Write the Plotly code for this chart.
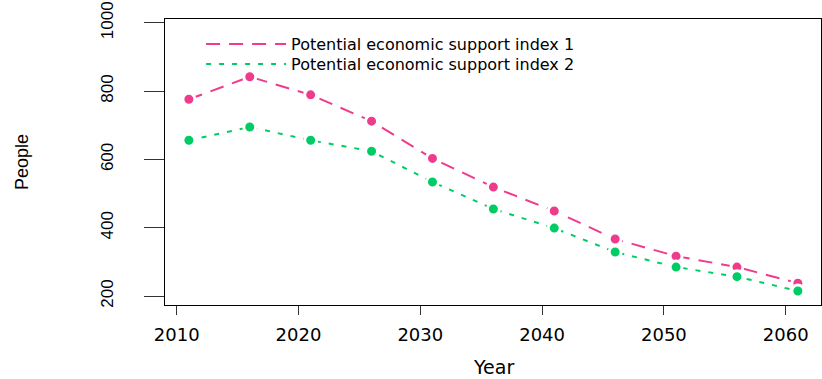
import plotly.graph_objects as go

years = [2011, 2016, 2021, 2026, 2031, 2036, 2041, 2046, 2051, 2056, 2061]
index1 = [776, 842, 789, 712, 603, 519, 449, 367, 317, 285, 238]
index2 = [656, 695, 656, 624, 534, 455, 399, 329, 285, 257, 215]
series_names = ["Potential economic support index 1", "Potential economic support index 2"]
x_ticks = [2010, 2020, 2030, 2040, 2050, 2060]
y_ticks = [200, 400, 600, 800, 1000]

pink = "#EF3B8C"
green = "#00CC66"

fig = go.Figure()
fig.add_trace(go.Scatter(x=years, y=index1, mode="lines", name=series_names[0], legend="legend",
                         line=dict(color=pink, width=2, dash="14px,9px")))
fig.add_trace(go.Scatter(x=years, y=index2, mode="lines", name=series_names[1], legend="legend2",
                         line=dict(color=green, width=2, dash="5px,8px")))
fig.add_trace(go.Scatter(x=years, y=index1, mode="markers", showlegend=False,
                         marker=dict(color=pink, size=12, line=dict(color="white", width=3))))
fig.add_trace(go.Scatter(x=years, y=index2, mode="markers", showlegend=False,
                         marker=dict(color=green, size=12, line=dict(color="white", width=3))))

axis_common = dict(showline=True, linecolor="black", linewidth=1, mirror=True,
                   showgrid=False, zeroline=False, ticks="outside", tickcolor="#333",
                   tickwidth=1)

legend_common = dict(xanchor="left", yanchor="middle", bgcolor="rgba(0,0,0,0)", itemwidth=80,
                     font=dict(family="DejaVu Sans", size=16, color="black"))

fig.update_layout(
    width=822, height=379,
    margin=dict(l=165, r=1, t=19, b=74),
    paper_bgcolor="white", plot_bgcolor="white",
    xaxis=dict(range=[2009.04, 2062.9], tickvals=x_ticks, ticklen=9,
               tickfont=dict(family="DejaVu Sans", size=18, color="black"),
               ticklabelstandoff=4, **axis_common),
    yaxis=dict(range=[174, 1011], tickvals=y_ticks, ticklen=20, tickangle=-90,
               tickfont=dict(family="Liberation Sans", size=17, color="black"),
               ticklabelstandoff=24, **axis_common),
    legend=dict(x=0.055, y=0.9126, **legend_common),
    legend2=dict(x=0.055, y=0.8427, **legend_common),
    annotations=[
        dict(text="People", xref="paper", yref="paper", x=0, y=0.5,
             xshift=-143, xanchor="center", yanchor="middle", textangle=-90,
             showarrow=False, font=dict(family="Liberation Sans", size=18, color="black")),
        dict(text="Year", xref="paper", yref="paper", x=0.5, y=0,
             yshift=-62, xanchor="center", yanchor="middle",
             showarrow=False, font=dict(family="DejaVu Sans", size=19, color="black")),
    ],
)

fig.write_html("out.html")
